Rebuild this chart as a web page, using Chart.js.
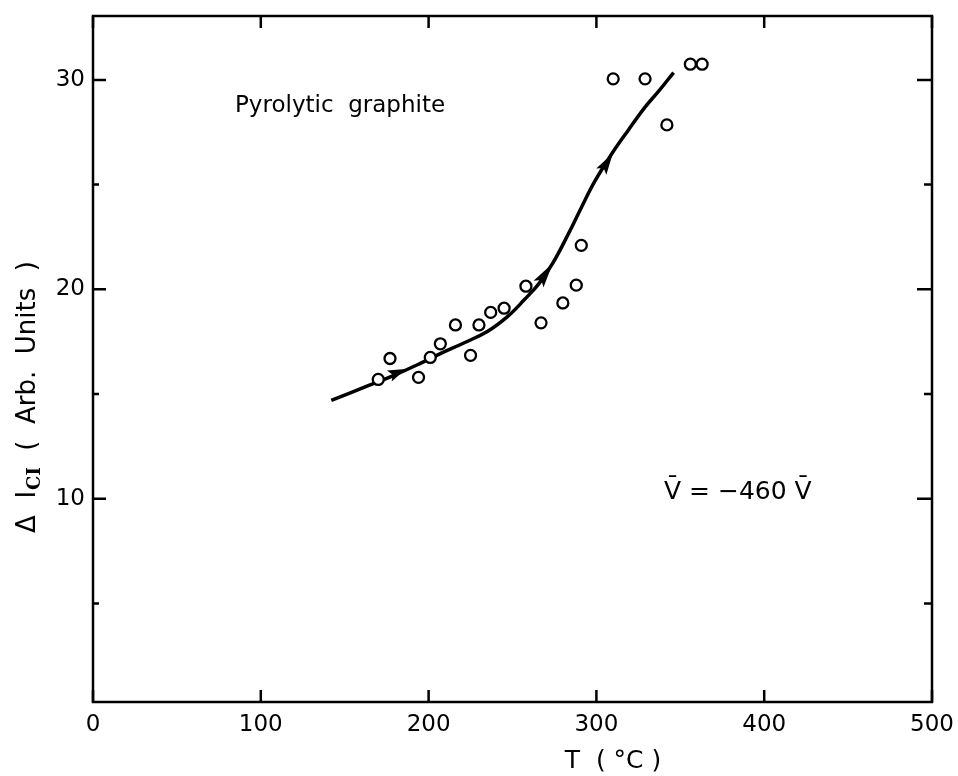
<!DOCTYPE html>
<html>
<head>
<meta charset="utf-8">
<script src="https://cdn.jsdelivr.net/npm/chart.js@4/dist/chart.umd.min.js"></script>
<style>
  html, body { margin: 0; padding: 0; background: #fff; }
  #wrap { width: 958px; height: 776px; }
</style>
</head>
<body>
<div id="wrap"><canvas id="chart" width="958" height="776"></canvas></div>
<script>
// measured points (open circles)
const tempC = [170, 177, 194, 201, 207, 216, 225, 230, 237, 245, 258, 267, 280, 288, 291, 310, 329, 342, 356, 363];
const deltaI = [15.7, 16.7, 15.8, 16.75, 17.4, 18.3, 16.85, 18.3, 18.9, 19.1, 20.15, 18.4, 19.35, 20.2, 22.1, 30.05, 30.05, 27.85, 30.75, 30.75];

// hand-drawn trend curve
const curveT = [142, 164, 179, 196, 207, 221, 235, 247, 257, 266, 274, 283, 291, 299, 309, 319, 329, 337, 346];
const curveI = [14.7, 15.4, 15.88, 16.5, 16.93, 17.44, 17.99, 18.7, 19.5, 20.3, 21.25, 22.6, 23.9, 25.15, 26.45, 27.6, 28.7, 29.45, 30.35];

// arrowheads on the curve: base -> tip, in data units
const arrowBaseT = [176.6, 265.5, 302.9];
const arrowBaseI = [15.86, 20.25, 25.62];
const arrowTipT = [186.5, 274, 309.8];
const arrowTipI = [16.2, 21.25, 26.5];

const xTicks = [0, 100, 200, 300, 400, 500];
const yTicks = [5, 10, 15, 20, 25, 30];
const yLabelled = [10, 20, 30];

const INK = '#000';
const FONT = 'DejaVu Sans';

const framePlugin = {
  id: 'frame',
  afterDatasetsDraw(chart) {
    const { ctx, chartArea: a, scales: { x, y } } = chart;
    ctx.save();
    ctx.strokeStyle = INK;
    ctx.fillStyle = INK;

    // arrowheads
    for (let i = 0; i < arrowTipT.length; i++) {
      const bx = x.getPixelForValue(arrowBaseT[i]), by = y.getPixelForValue(arrowBaseI[i]);
      const tx = x.getPixelForValue(arrowTipT[i]), ty = y.getPixelForValue(arrowTipI[i]);
      const ang = Math.atan2(ty - by, tx - bx);
      const len = Math.hypot(tx - bx, ty - by), half = 6;
      ctx.beginPath();
      ctx.moveTo(tx, ty);
      ctx.lineTo(tx - len * Math.cos(ang) - half * Math.sin(ang), ty - len * Math.sin(ang) + half * Math.cos(ang));
      ctx.lineTo(tx - len * 0.8 * Math.cos(ang), ty - len * 0.8 * Math.sin(ang));
      ctx.lineTo(tx - len * Math.cos(ang) + half * Math.sin(ang), ty - len * Math.sin(ang) - half * Math.cos(ang));
      ctx.closePath();
      ctx.fill();
    }

    // box
    ctx.lineWidth = 2.5;
    ctx.strokeRect(a.left, a.top, a.right - a.left, a.bottom - a.top);

    // inward ticks
    ctx.beginPath();
    xTicks.forEach(v => {
      const px = x.getPixelForValue(v);
      ctx.moveTo(px, a.bottom); ctx.lineTo(px, a.bottom - 12);
      ctx.moveTo(px, a.top); ctx.lineTo(px, a.top + 12);
    });
    yTicks.forEach(v => {
      const py = y.getPixelForValue(v);
      const major = yLabelled.includes(v);
      ctx.moveTo(a.left, py); ctx.lineTo(a.left + (major ? 13 : 6), py);
      ctx.moveTo(a.right, py); ctx.lineTo(a.right - (major ? 15 : 8), py);
    });
    ctx.stroke();

    // annotations
    ctx.textBaseline = 'middle';
    ctx.textAlign = 'left';
    ctx.font = '23px ' + FONT;
    ctx.fillText('Pyrolytic  graphite', 235, 106);
    ctx.font = '25px ' + FONT;
    ctx.fillText('V\u0304 = \u2212460 V\u0304', 664, 492);

    // x title
    ctx.textAlign = 'center';
    ctx.font = '25px ' + FONT;
    ctx.fillText('T  ( \u00B0C )', 613, 761);

    // y title (rotated, with subscript)
    ctx.translate(28, 397);
    ctx.rotate(-Math.PI / 2);
    ctx.textAlign = 'left';
    const main1 = '\u0394  I', sub = 'CI', main2 = '  (  Arb.  Units  )';
    ctx.font = '26px ' + FONT;
    const w1 = ctx.measureText(main1).width;
    const w3 = ctx.measureText(main2).width;
    ctx.font = 'bold 18px DejaVu Serif';
    const w2 = ctx.measureText(sub).width;
    let cx = -(w1 + w2 + w3 + 1) / 2;
    ctx.font = '26px ' + FONT;
    ctx.fillText(main1, cx, 0); cx += w1;
    ctx.font = 'bold 18px DejaVu Serif';
    ctx.fillText(sub, cx + 1, 7); cx += w2 + 1;
    ctx.font = '26px ' + FONT;
    ctx.fillText(main2, cx, 0);
    ctx.restore();
  }
};

new Chart(document.getElementById('chart'), {
  type: 'scatter',
  data: {
    datasets: [
      {
        label: 'measured',
        data: tempC.map((t, i) => ({ x: t, y: deltaI[i] })),
        pointStyle: 'circle',
        pointRadius: 5.5,
        pointBorderWidth: 2.3,
        pointBorderColor: INK,
        pointBackgroundColor: '#fff',
        order: 0
      },
      {
        label: 'trend',
        data: curveT.map((t, i) => ({ x: t, y: curveI[i] })),
        showLine: true,
        borderColor: INK,
        borderWidth: 3.5,
        pointRadius: 0,
        tension: 0.4,
        order: 1
      }
    ]
  },
  options: {
    responsive: false,
    animation: false,
    layout: { padding: { top: 16, right: 26, left: 0, bottom: 0 } },
    plugins: { legend: { display: false }, tooltip: { enabled: false } },
    scales: {
      x: {
        type: 'linear',
        min: 0,
        max: 500,
        afterBuildTicks: s => { s.ticks = xTicks.map(v => ({ value: v })); },
        afterFit: s => { s.height = 74; s.paddingLeft = 0; s.paddingRight = 0; },
        grid: { display: false, drawTicks: false },
        border: { display: false },
        ticks: { color: INK, padding: 9, maxRotation: 0, font: { family: FONT, size: 23 } }
      },
      y: {
        type: 'linear',
        min: 0.3,
        max: 33.05,
        afterBuildTicks: s => { s.ticks = yTicks.map(v => ({ value: v })); },
        afterFit: s => { s.width = 93; s.paddingTop = 0; s.paddingBottom = 0; },
        grid: { display: false, drawTicks: false },
        border: { display: false },
        ticks: {
          color: INK,
          padding: 8,
          font: { family: FONT, size: 23 },
          callback: v => yLabelled.includes(v) ? String(v) : ''
        }
      }
    }
  },
  plugins: [framePlugin]
});
</script>
</body>
</html>
